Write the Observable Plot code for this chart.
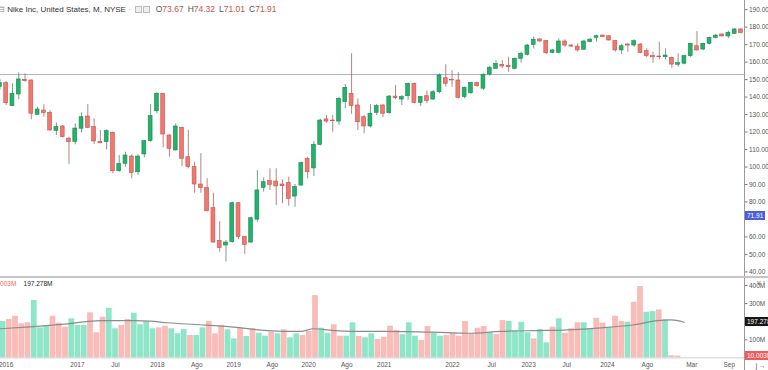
<!DOCTYPE html>
<html><head><meta charset="utf-8">
<script src="https://cdn.jsdelivr.net/npm/d3@7"></script>
<script src="https://cdn.jsdelivr.net/npm/@observablehq/plot@0.6"></script>
<style>
body{margin:0;background:#fff;}
#wrap{position:relative;width:768px;height:370px;overflow:hidden;font-family:"Liberation Sans",Arial,sans-serif;background:#fff;}
.abs{position:absolute;}
.v{color:#c4544b;}
.k{color:#555;}
.g{margin-right:4px;}
.ico{display:inline-block;width:5px;height:5px;border:1px solid #bbb;background:#eee;vertical-align:middle;margin-right:1px;}
.box{font-size:6.5px;color:#fff;padding:0 2px;line-height:9px;height:9px;white-space:nowrap;}
</style></head><body>
<div id="wrap">
  <div id="price" class="abs" style="left:0;top:0"></div>
  <div id="vol" class="abs" style="left:0;top:277px"></div>
</div>
<script>
// ---- price data (monthly candles) ----
const opens  = [145.7,148.0,134.8,141.5,149.9,149.5,129.9,132.3,131.0,120.7,123.2,116.2,114.4,121.9,128.9,122.8,114.4,114.2,119.6,97.6,101.8,106.0,97.0,107.2,114.8,131.9,141.9,118.0,109.5,122.4,105.6,99.9,90.0,87.9,76.5,57.8,55.1,57.0,79.3,59.9,56.8,69.9,88.1,91.9,91.7,90.0,90.8,83.1,89.4,104.7,99.2,112.7,127.2,126.6,126.0,137.1,141.9,135.2,128.5,123.2,131.0,135.2,130.8,140.3,138.6,140.5,147.6,136.7,140.5,138.6,142.8,150.8,149.9,149.5,140.0,142.2,148.0,144.8,152.9,156.2,158.5,157.9,156.2,161.9,164.2,169.9,173.0,172.0,165.3,165.3,171.8,169.5,168.9,167.1,171.4,173.9,175.2,174.8,172.0,166.7,170.1,169.5,170.1,166.3,163.4,163.2,162.8,162.5,158.5,159.1,163.4,169.1,167.2,170.5,173.9,175.8,174.7,176.2,178.7];
const highs  = [150.1,148.9,147.6,153.9,153.3,149.8,134.2,135.6,132.3,125.1,123.8,117.1,124.7,131.0,135.8,127.6,120.9,121.3,119.9,106.6,108.5,107.0,107.0,115.2,135.8,142.5,142.0,118.6,124.7,122.8,120.9,102.8,107.6,93.3,85.0,68.7,58.0,79.9,79.6,60.2,71.3,98.0,93.8,99.0,99.0,92.7,94.2,90.0,102.8,105.6,114.6,127.4,129.5,129.5,139.9,147.2,164.8,139.0,129.5,135.8,135.8,135.6,140.9,146.6,140.9,148.0,148.0,140.4,143.4,143.8,153.3,158.5,155.2,153.9,145.7,148.5,148.5,153.3,157.5,160.9,160.9,162.8,162.5,165.7,170.1,174.3,173.4,172.4,167.2,173.4,172.8,169.9,170.5,172.4,173.4,175.4,175.5,175.2,172.4,170.1,170.5,172.8,170.5,167.6,165.7,171.4,167.6,162.8,164.8,163.8,170.8,177.5,170.8,174.3,175.8,176.2,177.7,179.1,179.1];
const lows   = [143.8,135.2,134.5,138.5,148.5,127.0,129.5,128.5,120.5,118.0,116.6,101.5,112.7,119.4,122.0,112.9,113.3,109.8,96.1,97.0,99.9,93.3,95.2,105.3,114.2,130.4,111.0,105.6,109.1,100.3,99.0,85.0,85.0,74.4,56.4,51.3,45.6,56.4,58.4,50.0,56.4,68.5,85.6,86.6,78.0,79.0,77.6,77.0,89.0,93.3,94.6,112.1,125.1,119.9,123.8,133.3,130.1,120.9,119.0,122.4,129.5,128.2,130.1,138.5,135.2,138.1,136.2,134.6,136.2,138.1,141.9,145.7,145.7,139.0,139.0,141.5,145.7,143.8,152.0,155.9,156.2,154.2,155.6,159.4,163.6,167.6,171.4,164.4,164.8,164.8,168.5,168.5,165.7,166.7,171.1,171.4,174.1,172.0,165.7,164.4,165.7,168.5,164.8,162.5,159.4,161.3,161.3,156.5,157.1,158.5,162.5,166.3,166.7,169.9,173.3,174.3,173.4,175.8,176.2];
const closes = [148.0,136.5,141.9,150.1,149.1,130.5,132.9,130.8,120.9,122.8,117.1,114.2,122.0,128.5,122.4,114.6,113.6,120.5,97.6,101.8,106.6,96.5,106.0,114.8,129.1,141.9,118.6,110.4,123.2,104.7,99.9,90.0,87.9,74.7,56.8,53.6,56.8,79.3,59.9,55.5,70.7,86.6,91.3,89.8,88.9,89.0,81.8,88.5,102.2,97.0,112.7,126.6,126.0,126.2,139.0,145.3,134.8,125.6,123.2,130.5,134.8,130.5,140.3,139.4,140.0,147.6,136.7,140.0,137.7,142.8,152.4,147.6,149.5,139.6,145.3,148.2,146.2,152.8,156.8,159.0,157.5,157.1,161.9,164.8,169.5,172.8,171.8,165.1,166.7,171.8,169.5,168.9,166.7,171.8,172.9,174.8,174.3,172.4,166.7,169.1,169.5,172.0,165.3,163.4,162.8,162.8,163.8,158.6,159.4,163.4,170.5,166.7,170.5,173.9,175.2,174.7,176.8,178.7,176.6];
const priceTicks = [40,50,60,80,90,100,110,120,130,140,150,160,170,180,190];
const refLevel = 152.9;      // horizontal line
const lastPrice = 71.91;     // blue price tag

// ---- volume data (millions) ----
const volumes = [201,212,230,188,194,317,166,179,230,192,170,216,179,179,249,139,225,274,161,179,212,247,183,201,161,166,175,161,133,157,124,124,166,201,133,179,155,105,164,118,161,136,120,142,133,155,111,133,124,146,344,164,136,183,120,120,194,118,111,133,102,114,175,151,128,194,120,96,173,136,120,124,136,120,201,133,164,173,139,129,206,201,151,197,139,105,157,83,170,216,136,161,194,194,161,219,192,166,230,201,197,307,394,252,256,265,210,12,10];
const volumeDir = ("gppppgggpp"+"pgggpppggp"+"pggggppggg"+"pggpppggpg"+"pggpgpggpp"+"pggppggpggp"+"pppgggppgg"+"pppppppgpp"+"ggggpggpgp"+"ppggppgppg"+"ppggpg"+"pp").split("");
const maIndex  = [-0.4,4.9,10.3,15.6,20.9,23.6,26.3,31.6,36.9,42.3,47.6,49.7,52.9,58.3,61,69,74.3,79.7,85,90.3,95.7,101,104.7,106.9,109];
const maValues = [161,173,188,206,206,203,194,183,170,151,146,161,151,146,147,142,136,146,151,155,166,183,206,210,197];
const volTicks = [100,300,400];
const volMA = 197.278, volLast = 10.003;

// ---- time axis labels ----
const tickLabels = ["2016","2017","Jul","2018","Ago","2019","Ago","2020","Ago","2021","2022","Jul","2023","Jul","2024","Ago","Mar","Sep"];
const tickIndex  = [0.5,11.9,18,24.7,31,36.9,43.1,48.9,55,61,71.9,78.2,84.1,90.2,96.7,103.1,110.2,116.2];

const candles = opens.map((o,i)=>({n:i+1,o,h:highs[i],l:lows[i],c:closes[i],up:closes[i]>=o}));
const vols = volumes.map((v,j)=>({j,v,up:volumeDir[j]==="g"}));
const ma = maIndex.map((j,k)=>({j,v:maValues[k]}));

const font = "Liberation Sans, Arial, sans-serif";
const GREEN="#22b26b", GREEN_D="#178a50", RED="#ef7870", RED_D="#c9524a";

const price = Plot.plot({
  width:768, height:277, marginLeft:0, marginRight:24, marginTop:0, marginBottom:0,
  style:{fontFamily:font, color:"#555", background:"transparent", overflow:"visible"},
  x:{domain:[1.0955,119.567], axis:null},
  y:{domain:[36.8,195.26], axis:null},
  marks:[
    Plot.ruleY([refLevel],{stroke:"#aab2c6", strokeWidth:1}),
    Plot.ruleX(candles,{x:"n", y1:"l", y2:"h", stroke:d=>d.up?"#4d8a6c":"#a4655f", strokeWidth:0.8}),
    Plot.rect(candles,{x1:d=>d.n-0.31, x2:d=>d.n+0.31, y1:d=>Math.min(d.o,d.c), y2:d=>Math.max(d.o,d.c),
      fill:d=>d.up?GREEN:RED, stroke:d=>d.up?GREEN_D:RED_D, strokeWidth:0.6}),
    Plot.axisY(priceTicks,{anchor:"right", tickFormat:d=>d.toFixed(2), tickSize:2.5, tickPadding:2, fontSize:6.5, stroke:"#777"})
  ]
});
document.getElementById("price").appendChild(price);

const vol = Plot.plot({
  width:768, height:93, marginLeft:0, marginRight:24, marginTop:0, marginBottom:12.6,
  style:{fontFamily:font, color:"#555", background:"transparent", overflow:"visible"},
  x:{domain:[-0.4,118.64], axis:null},
  y:{domain:[0,444], axis:null},
  marks:[
    Plot.rectY(vols,{x1:d=>d.j-0.46, x2:d=>d.j+0.46, y:"v", fill:d=>d.up?"#8fe5c7":"#f9bcb8"}),
    Plot.line(ma,{x:"j", y:"v", stroke:"#8c8c8c", strokeWidth:1.2, curve:"monotone-x"}),
    Plot.ruleY([0],{stroke:"#d0d0d0"}),
    Plot.axisY(volTicks,{anchor:"right", tickFormat:d=>d+"M", tickSize:2.5, tickPadding:2, fontSize:6.5, stroke:"#777"}),
    Plot.axisX(tickIndex,{anchor:"bottom", tickFormat:d=>tickLabels[tickIndex.indexOf(d)], tickSize:0, tickPadding:4, fontSize:6.5})
  ]
});
document.getElementById("vol").appendChild(vol);

const wrap = document.getElementById("wrap");
function add(html, cls, css){const e=document.createElement("div");e.className="abs "+(cls||"");e.style.cssText=css;e.innerHTML=html;wrap.appendChild(e);return e;}
// axis line & separator
add("","", "left:744px;top:0;width:1px;height:370px;background:#9a9a9a;");
add("","", "left:0;top:276px;width:768px;height:1.5px;background:#c6c6c6;");
// header
add('<span style="color:#888">&#8863;</span> Nike Inc, United States, M, NYSE <span style="color:#999">&middot;</span> &nbsp;<span class="ico"></span><span class="ico"></span>&nbsp; <span style="font-size:8.5px"><span class="g"><span class="k">O</span><span class="v">73.67</span></span><span class="g"><span class="k">H</span><span class="v">74.32</span></span><span class="g"><span class="k">L</span><span class="v">71.01</span></span><span><span class="k">C</span><span class="v">71.91</span></span></span>',"","left:-2px;top:4px;font-size:8px;color:#333;white-space:nowrap;line-height:10px;");
// volume legend
add('<span style="color:#ef6b66">10.003M</span>&nbsp;&nbsp;&nbsp;&nbsp;<span style="color:#222">197.278M</span>',"","left:-9px;top:280px;font-size:6.5px;white-space:nowrap;");
// price tags
const py = price.scale("y"), vy = vol.scale("y");
add(lastPrice.toFixed(2),"box",`left:745px;top:${py.apply(lastPrice)-4.5}px;background:#4a5ee0;`);
add(volMA.toFixed(3)+"M","box",`left:745px;top:${277+vy.apply(volMA)-4.5}px;background:#161616;`);
add(volLast.toFixed(3)+"M","box",`left:745px;top:${277+vy.apply(volLast)-4.5}px;background:#f05a5a;`);
</script>
</body></html>
